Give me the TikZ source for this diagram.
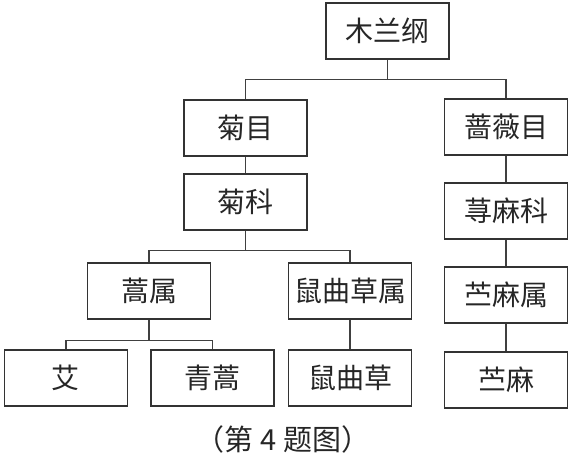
\documentclass[tikz,border=0pt]{standalone}
\usepackage{fontspec}
\newfontfamily\cjk{Noto Sans CJK SC}
\usepackage{tikz}
\usetikzlibrary{positioning}

\tikzset{
  taxon/.style={draw=black!80, line width=0.8pt, minimum width=61.5pt, minimum height=28pt,
    inner sep=0pt, font=\cjk\fontsize{14pt}{16pt}\selectfont, text=black!85},
  link/.style={draw=black!75, line width=0.6pt}
}

\begin{document}
\begin{tikzpicture}[x=0.5pt, y=-0.5pt]
\useasboundingbox (0,0) rectangle (579,466);
% class and orders
\node[taxon] (mulan) at (387.5,31) {木兰纲};
\node[taxon] (jumu) at (245.5,128) {菊目};
\node[taxon] (qiangweimu) at (506,127) {蔷薇目};
% families
\node[taxon] (juke) at (245.5,202) {菊科};
\node[taxon] (qianmake) at (506,211) {荨麻科};
% genera
\node[taxon] (haoshu) at (149,291) {蒿属};
\node[taxon] (shuqucaoshu) at (350,291) {鼠曲草属};
\node[taxon] (zhumashu) at (506,295) {苎麻属};
% species
\node[taxon] (ai) at (66,378) {艾};
\node[taxon] (qinghao) at (212.5,378) {青蒿};
\node[taxon] (shuqucao) at (350,378) {鼠曲草};
\node[taxon] (zhuma) at (506,380) {苎麻};
\node[font=\cjk\fontsize{14.5pt}{16pt}\selectfont, text=black!85] (caption) at (283,439) {（第\ 4\ 题图）};

% connectors
\draw[link] (mulan.south) -- ++(0,20) -| (jumu.north);
\draw[link] (mulan.south) -- ++(0,20) -| (qiangweimu.north);
\draw[link] (jumu) -- (juke);
\draw[link] (juke.south) -- ++(0,20) -| (haoshu.north);
\draw[link] (juke.south) -- ++(0,20) -| (shuqucaoshu.north);
\draw[link] (haoshu.south) -- ++(0,21) -| (ai.north);
\draw[link] (haoshu.south) -- ++(0,21) -| (qinghao.north);
\draw[link] (shuqucaoshu) -- (shuqucao);
\draw[link] (qiangweimu) -- (qianmake);
\draw[link] (qianmake) -- (zhumashu);
\draw[link] (zhumashu) -- (zhuma);
\end{tikzpicture}
\end{document}
